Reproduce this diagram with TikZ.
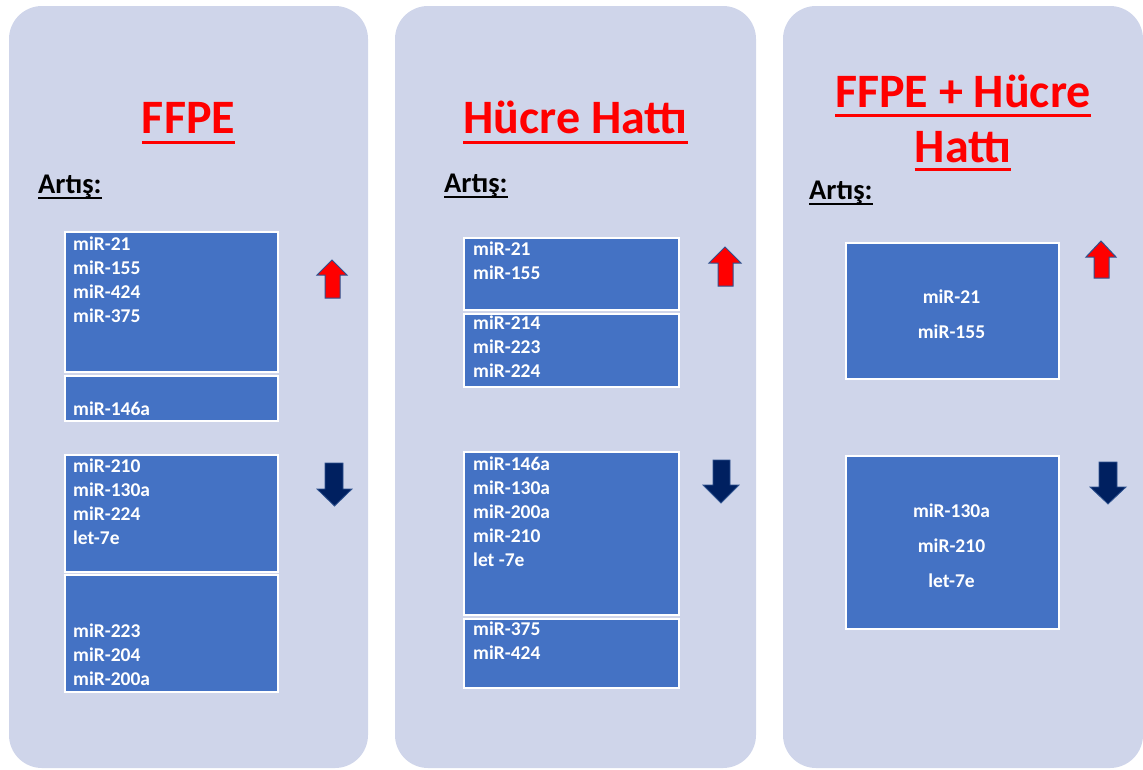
\documentclass[tikz,border=0pt]{standalone}
\usepackage{fontspec}
\setmainfont{Carlito}
\definecolor{panelfill}{RGB}{207,213,234}
\definecolor{mirblue}{RGB}{68,114,196}
\definecolor{arrowline}{RGB}{47,82,143}
\definecolor{navy}{RGB}{0,32,96}
\tikzset{
  panel/.style={fill=panelfill, rounded corners=33pt},
  mirbox/.style={fill=mirblue, draw=white, line width=2pt, anchor=north west, inner sep=0pt},
  mirtext/.style={text=white, font=\fontsize{19.5}{24}\selectfont\bfseries, align=left, anchor=base west, inner sep=0pt},
  title/.style={text=red, font=\fontsize{48}{55}\selectfont\bfseries, anchor=base, inner sep=0pt},
  titleline/.style={red, line width=3pt},
  artis/.style={font=\fontsize{28.5}{30}\selectfont\bfseries, anchor=base west, inner sep=0pt},
  artisline/.style={line width=1.5pt},
  uparrow/.style={fill=red, draw=arrowline, line width=1pt},
  downarrow/.style={fill=navy, draw=arrowline, line width=0.8pt}
}
\begin{document}
\begin{tikzpicture}[x=1pt, y=-1pt]
\useasboundingbox (0,0) rectangle (1143,769);
% panels
\path[panel] (9,6) rectangle (368,768);
\path[panel] (395,6) rectangle (756,768);
\path[panel] (783,6) rectangle (1143,768);
% FFPE
\node[title] (T_0) at (188.5,133) {FFPE};
\draw[titleline] ([yshift=-9pt]T_0.base west) -- ([yshift=-9pt]T_0.base east);
\node[artis] (A_0) at (38,193) {Artış:};
\draw[artisline] ([yshift=-5pt]A_0.base west) -- ([yshift=-5pt]A_0.base east);
\node[mirbox, minimum width=213pt, minimum height=140pt] (B_0_0) at (64,231) {};
\node[mirtext] (L_0_0) at (73,322) {miR-21\\miR-155\\miR-424\\miR-375};
\node[mirbox, minimum width=213pt, minimum height=45pt] (B_0_1) at (64,375) {};
\node[mirtext] (L_0_1) at (73,415) {miR-146a};
\node[mirbox, minimum width=213pt, minimum height=117pt] (B_0_2) at (64,454) {};
\node[mirtext] (L_0_2) at (73,544) {miR-210\\miR-130a\\miR-224\\let-7e};
\node[mirbox, minimum width=213pt, minimum height=117pt] (B_0_3) at (64,574) {};
\node[mirtext] (L_0_3) at (73,685) {miR-223\\miR-204\\miR-200a};
\filldraw[uparrow] (325,298) -- (325,275) -- (317,275) -- (332,260) -- (347,275) -- (340,275) -- (340,298) -- cycle;
\filldraw[downarrow] (325,463) -- (325,489) -- (317,489) -- (334.5,506) -- (352,489) -- (343,489) -- (343,463) -- cycle;
% Hucre Hatti
\node[title] (T_1) at (575.5,133) {Hücre Hattı};
\draw[titleline] ([yshift=-9pt]T_1.base west) -- ([yshift=-9pt]T_1.base east);
\node[artis] (A_1) at (444,192) {Artış:};
\draw[artisline] ([yshift=-5pt]A_1.base west) -- ([yshift=-5pt]A_1.base east);
\node[mirbox, minimum width=215pt, minimum height=72pt] (B_1_0) at (463,237) {};
\node[mirtext] (L_1_0) at (473,279) {miR-21\\miR-155};
\node[mirbox, minimum width=215pt, minimum height=73pt] (B_1_1) at (463,313) {};
\node[mirtext] (L_1_1) at (473,377) {miR-214\\miR-223\\miR-224};
\node[mirbox, minimum width=215pt, minimum height=163pt] (B_1_2) at (463,451) {};
\node[mirtext] (L_1_2) at (473,566) {miR-146a\\miR-130a\\miR-200a\\miR-210\\let -7e};
\node[mirbox, minimum width=215pt, minimum height=69pt] (B_1_3) at (463,618) {};
\node[mirtext] (L_1_3) at (473,659) {miR-375\\miR-424};
\filldraw[uparrow] (718,286) -- (718,263) -- (709,263) -- (725,247) -- (741,263) -- (733,263) -- (733,286) -- cycle;
\filldraw[downarrow] (713,460) -- (713,485) -- (703,485) -- (721,503) -- (739,485) -- (730,485) -- (730,460) -- cycle;
% FFPE + Hucre Hatti
\node[title] (T_2) at (963,107) {FFPE + Hücre};
\draw[titleline] ([yshift=-8pt]T_2.base west) -- ([yshift=-8pt]T_2.base east);
\node[title] (T_3) at (963,162) {Hattı};
\draw[titleline] ([yshift=-7pt]T_3.base west) -- ([yshift=-7pt]T_3.base east);
\node[artis] (A_2) at (809,199) {Artış:};
\draw[artisline] ([yshift=-5pt]A_2.base west) -- ([yshift=-5pt]A_2.base east);
\node[mirbox, minimum width=213pt, minimum height=136pt] (B_2_0) at (845,242) {};
\node[mirtext, align=center, anchor=base, font=\fontsize{19.5}{35}\selectfont\bfseries] (L_2_0) at (951.5,338) {miR-21\\miR-155};
\node[mirbox, minimum width=213pt, minimum height=173pt] (B_2_1) at (845,455) {};
\node[mirtext, align=center, anchor=base, font=\fontsize{19.5}{35}\selectfont\bfseries] (L_2_1) at (951.5,587) {miR-130a\\miR-210\\let-7e};
\filldraw[uparrow] (1094,278) -- (1094,257) -- (1086,257) -- (1101,241) -- (1116,257) -- (1109,257) -- (1109,278) -- cycle;
\filldraw[downarrow] (1099,462) -- (1099,487) -- (1090,487) -- (1108,504) -- (1126,487) -- (1117,487) -- (1117,462) -- cycle;
\end{tikzpicture}
\end{document}
